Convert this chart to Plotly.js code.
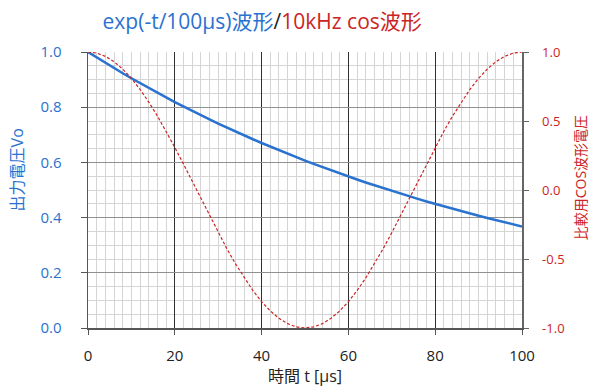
<!DOCTYPE html>
<html>
<head>
<meta charset="utf-8">
<script src="https://cdn.plot.ly/plotly-3.0.1.min.js"></script>
<style>html,body{margin:0;padding:0;background:#fff;}#chart{width:600px;height:390px;}</style>
</head>
<body>
<div id="chart"></div>
<script>
// time axis in microseconds
var timeUs = [0,2,4,6,8,10,12,14,16,18,20,22,24,26,28,30,32,34,36,38,40,42,44,46,48,50,
  52,54,56,58,60,62,64,66,68,70,72,74,76,78,80,82,84,86,88,90,92,94,96,98,100];
// exp(-t/100us) output voltage
var expVo = [1.0000,0.9802,0.9608,0.9418,0.9231,0.9048,0.8869,0.8694,0.8521,0.8353,0.8187,
  0.8025,0.7866,0.7711,0.7558,0.7408,0.7261,0.7118,0.6977,0.6839,0.6703,
  0.6570,0.6440,0.6313,0.6188,0.6065,0.5945,0.5827,0.5712,0.5599,0.5488,
  0.5379,0.5273,0.5169,0.5066,0.4966,0.4868,0.4771,0.4677,0.4584,0.4493,
  0.4404,0.4317,0.4232,0.4148,0.4066,0.3985,0.3906,0.3829,0.3753,0.3679];
// 10kHz cos comparison wave
var cosV = [1.0000,0.9921,0.9686,0.9298,0.8763,0.8090,0.7290,0.6374,0.5358,0.4258,0.3090,
  0.1874,0.0628,-0.0628,-0.1874,-0.3090,-0.4258,-0.5358,-0.6374,-0.7290,-0.8090,
  -0.8763,-0.9298,-0.9686,-0.9921,-1.0000,-0.9921,-0.9686,-0.9298,-0.8763,-0.8090,
  -0.7290,-0.6374,-0.5358,-0.4258,-0.3090,-0.1874,-0.0628,0.0628,0.1874,0.3090,
  0.4258,0.5358,0.6374,0.7290,0.8090,0.8763,0.9298,0.9686,0.9921,1.0000];
var xTicks = [0,20,40,60,80,100];
var leftTicks = [0,0.2,0.4,0.6,0.8,1.0];
var rightTicks = [-1,-0.5,0,0.5,1];

var BLUE = '#2a72d0', RED = '#cc2424';
var FONT = '"Open Sans", "Noto Sans CJK JP", sans-serif';

var traces = [
  {x: timeUs, y: cosV, yaxis: 'y2', mode: 'lines', line: {color: RED, width: 1.2, dash: '3px,2px'}, hoverinfo: 'skip'},
  {x: timeUs, y: expVo, yaxis: 'y', mode: 'lines', line: {color: BLUE, width: 2.5}, hoverinfo: 'skip'}
];

var layout = {
  width: 600, height: 390,
  margin: {l: 88, r: 78, t: 52, b: 62},
  paper_bgcolor: '#fff', plot_bgcolor: '#fff',
  showlegend: false,
  font: {family: FONT, size: 14},
  title: {
    text: '<span style="color:' + BLUE + '">exp(-t/100μs)波形</span><span style="color:#222">/</span><span style="color:' + RED + '">10kHz cos波形</span>',
    font: {family: FONT, size: 21}, x: 0.437, xanchor: 'center', y: 0.945, yanchor: 'middle'
  },
  xaxis: {
    range: [0, 100], tickvals: xTicks, ticktext: xTicks.map(String),
    showgrid: true, gridcolor: '#303030', gridwidth: 1,
    minor: {dtick: 2, showgrid: true, gridcolor: '#d4d4d4', gridwidth: 1, ticks: ''},
    showline: true, linecolor: '#555', linewidth: 2,
    ticks: 'outside', ticklen: 5, tickcolor: '#555',
    ticklabelstandoff: 8,
    tickfont: {color: '#222', size: 15, family: FONT},
    zeroline: false,
    title: {text: '時間 t [μs]', font: {color: '#222', size: 16, family: FONT}, standoff: 6}
  },
  yaxis: {
    range: [0, 1], tickvals: leftTicks, ticktext: leftTicks.map(function(v){return v.toFixed(1);}),
    showgrid: true, gridcolor: '#909090', gridwidth: 1,
    minor: {dtick: 0.05, showgrid: true, gridcolor: '#d4d4d4', gridwidth: 1, ticks: ''},
    showline: true, linecolor: '#555', linewidth: 1.5,
    ticks: 'outside', ticklen: 6, tickcolor: '#555',
    ticklabelstandoff: 16,
    tickfont: {color: BLUE, size: 15, family: FONT},
    zeroline: false
  },
  yaxis2: {
    range: [-1, 1], overlaying: 'y', side: 'right',
    tickvals: rightTicks, ticktext: rightTicks.map(function(v){return v.toFixed(1);}),
    showgrid: false, zeroline: false,
    showline: true, linecolor: '#666', linewidth: 1.5,
    ticks: 'outside', ticklen: 5, tickcolor: '#666',
    ticklabelstandoff: 11,
    tickfont: {color: RED, size: 13, family: FONT}
  },
  annotations: [
    {text: '出力電圧Vo', xref: 'paper', yref: 'paper', x: -0.163, y: 0.572, xanchor: 'center', yanchor: 'middle',
     textangle: -90, showarrow: false, font: {color: BLUE, size: 16, family: FONT}},
    {text: '比較用COS波形電圧', xref: 'paper', yref: 'paper', x: 1.134, y: 0.543, xanchor: 'center', yanchor: 'middle',
     textangle: -90, showarrow: false, font: {color: RED, size: 14, family: FONT}}
  ]
};

Plotly.newPlot('chart', traces, layout, {staticPlot: true, displayModeBar: false});
</script>
</body>
</html>
